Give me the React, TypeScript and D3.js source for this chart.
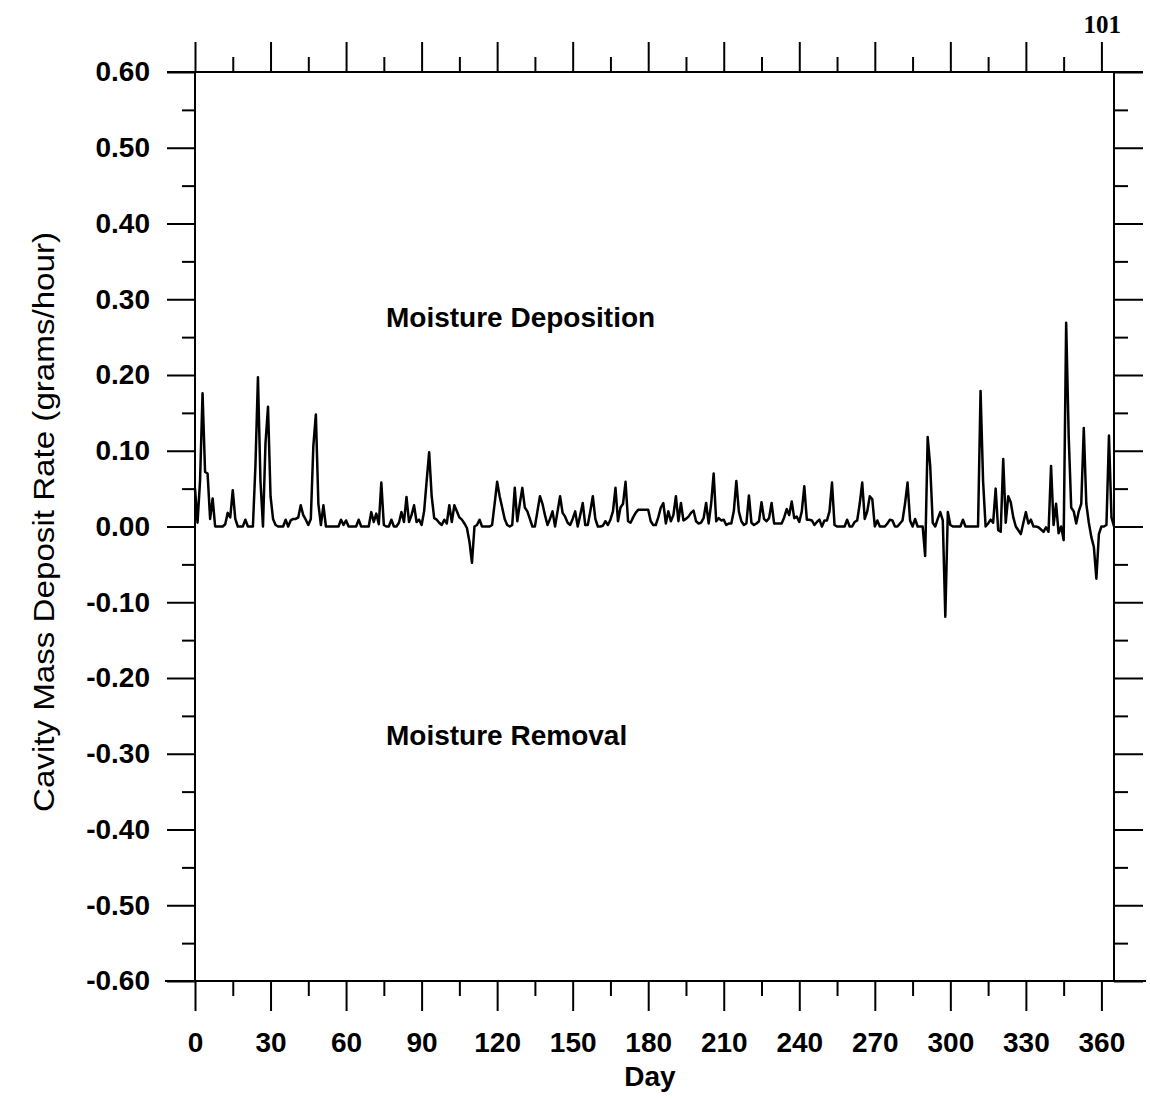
import React, { useRef, useEffect } from 'react';
import * as d3 from 'd3';

// daily cavity mass deposit rate (grams/hour), day 0..365
const RATE_Q1 = [
  0.05, 0.005, 0.06, 0.176, 0.072, 0.07, 0.01, 0.037, 0, 0,
  0, 0, 0.003, 0.018, 0.012, 0.048, 0.01, 0, 0, 0,
  0.009, 0, 0, 0, 0.08, 0.197, 0.06, 0, 0.11, 0.158,
  0.04, 0.01, 0.002, 0, 0, 0, 0.009, 0, 0.008, 0.01,
  0.01, 0.012, 0.028, 0.015, 0.009, 0.002, 0.01, 0.106, 0.148, 0.03,
  0.002, 0.028, 0, 0, 0, 0, 0, 0, 0.009, 0.002,
  0.008, 0, 0, 0, 0, 0.009, 0, 0, 0, 0,
  0.019, 0.006, 0.017, 0.003, 0.058, 0.002, 0, 0, 0.009, 0,
  0, 0.005, 0.019, 0.006, 0.039, 0.006, 0.015, 0.028, 0.006, 0.009,
];
const RATE_Q2 = [
  0.002, 0.02, 0.06, 0.098, 0.04, 0.011, 0.009, 0.005, 0.002, 0.009,
  0.004, 0.028, 0.006, 0.028, 0.02, 0.012, 0.009, 0.004, -0.002, -0.02,
  -0.048, 0, 0.002, 0.009, 0, 0, 0, 0, 0.002, 0.03,
  0.059, 0.04, 0.025, 0.01, 0.002, 0, 0.002, 0.051, 0.007, 0.03,
  0.051, 0.025, 0.02, 0.01, 0, 0, 0.02, 0.04, 0.03, 0.015,
  0.002, 0.01, 0.02, 0, 0.02, 0.04, 0.018, 0.013, 0.005, 0.002,
  0.01, 0.02, 0, 0.015, 0.031, 0.002, 0.002, 0.02, 0.04, 0.01,
  0, 0, 0.001, 0.007, 0.002, 0.009, 0.02, 0.051, 0.007, 0.025,
  0.03, 0.059, 0.007, 0.005, 0.012, 0.018, 0.022, 0.022, 0.022, 0.022,
];
const RATE_Q3 = [
  0.022, 0.007, 0.002, 0.002, 0.012, 0.025, 0.031, 0.004, 0.02, 0.007,
  0.015, 0.04, 0.007, 0.031, 0.008, 0.01, 0.013, 0.018, 0.021, 0.007,
  0.004, 0.005, 0.011, 0.031, 0.004, 0.03, 0.07, 0.007, 0.011, 0.008,
  0.009, 0.002, 0.004, 0.004, 0.02, 0.06, 0.02, 0.007, 0.002, 0.004,
  0.041, 0.005, 0.002, 0.004, 0.007, 0.032, 0.01, 0.007, 0.011, 0.031,
  0.004, 0.004, 0.004, 0.004, 0.012, 0.023, 0.015, 0.033, 0.011, 0.013,
  0.006, 0.02, 0.053, 0.009, 0.009, 0.008, 0.002, 0.006, 0.009, 0,
  0.008, 0.008, 0.02, 0.058, 0.002, 0, 0, 0, 0, 0.009,
  0, 0, 0.006, 0.008, 0.03, 0.058, 0.01, 0.02, 0.04, 0.036,
];
const RATE_Q4 = [
  0, 0.008, 0, 0, 0, 0.004, 0.009, 0.008, 0, 0,
  0.004, 0.008, 0.03, 0.058, 0.008, 0, 0.01, 0, 0, 0,
  -0.039, 0.118, 0.08, 0.005, 0, 0.01, 0.019, 0.008, -0.119, 0.019,
  0.002, 0, 0, 0, 0, 0.009, 0, 0, 0, 0,
  0, 0, 0.179, 0.06, 0, 0.004, 0.009, 0.005, 0.05, -0.005,
  -0.007, 0.089, 0.005, 0.04, 0.032, 0.012, 0, -0.005, -0.01, 0.005,
  0.019, 0.004, 0.009, 0, 0, -0.001, -0.004, -0.007, -0.001, -0.007,
  0.08, 0.002, 0.03, -0.009, 0, -0.018, 0.269, 0.12, 0.025, 0.02,
  0.004, 0.02, 0.03, 0.13, 0.03, 0.005, -0.014, -0.027, -0.069, -0.01,
  0, 0, 0.002, 0.12, 0.012, 0,
];

const X_MAJOR = [0, 30, 60, 90, 120, 150, 180, 210, 240, 270, 300, 330, 360];
const X_MINOR = [15, 45, 75, 105, 135, 165, 195, 225, 255, 285, 315, 345];
const Y_MAJOR = [-0.6, -0.5, -0.4, -0.3, -0.2, -0.1, 0, 0.1, 0.2, 0.3, 0.4, 0.5, 0.6];
const Y_MINOR = [-0.55, -0.45, -0.35, -0.25, -0.15, -0.05, 0.05, 0.15, 0.25, 0.35, 0.45, 0.55];

const W = 1150;
const H = 1099;
const FONT = '"Liberation Sans", Arial, Helvetica, sans-serif';

// plain hyphen for negatives, two decimals
const fmtY = (d: number) => d3.format('.2f')(d).replace('\u2212', '-');

export default function App() {
  const svgRef = useRef<SVGSVGElement>(null);

  useEffect(() => {
    const svg = d3.select(svgRef.current);
    svg.selectAll('*').remove();

    const left = 195, right = 1114, top = 72, bottom = 981;
    const x = d3.scaleLinear().domain([0, 365]).range([left, right]);
    const y = d3.scaleLinear().domain([-0.6, 0.6]).range([bottom, top]);

    const rate = [...RATE_Q1, ...RATE_Q2, ...RATE_Q3, ...RATE_Q4];

    const clean = (g: any) => {
      g.select('.domain').remove();
      g.selectAll('line').attr('stroke', '#000').attr('stroke-width', 2);
      g.selectAll('text')
        .attr('fill', '#000')
        .style('font-family', FONT)
        .style('font-weight', 'bold')
        .style('font-size', '28px');
    };

    // top
    svg.append('g').attr('transform', `translate(0,${top})`)
      .call(d3.axisTop(x).tickValues(X_MAJOR).tickSize(30).tickFormat(() => '')).call(clean);
    svg.append('g').attr('transform', `translate(0,${top})`)
      .call(d3.axisTop(x).tickValues(X_MINOR).tickSize(15).tickFormat(() => '')).call(clean);
    // bottom
    svg.append('g').attr('transform', `translate(0,${bottom})`)
      .call(d3.axisBottom(x).tickValues(X_MAJOR).tickSize(30).tickPadding(21).tickFormat(d3.format('d'))).call(clean);
    svg.append('g').attr('transform', `translate(0,${bottom})`)
      .call(d3.axisBottom(x).tickValues(X_MINOR).tickSize(15).tickFormat(() => '')).call(clean);
    // left
    svg.append('g').attr('transform', `translate(${left},0)`)
      .call(d3.axisLeft(y).tickValues(Y_MAJOR).tickSize(28).tickPadding(17).tickFormat(fmtY as any)).call(clean);
    svg.append('g').attr('transform', `translate(${left},0)`)
      .call(d3.axisLeft(y).tickValues(Y_MINOR).tickSize(13).tickFormat(() => '')).call(clean);
    // right
    svg.append('g').attr('transform', `translate(${right},0)`)
      .call(d3.axisRight(y).tickValues(Y_MAJOR).tickSize(29).tickFormat(() => '')).call(clean);
    svg.append('g').attr('transform', `translate(${right},0)`)
      .call(d3.axisRight(y).tickValues(Y_MINOR).tickSize(14).tickFormat(() => '')).call(clean);

    // frame
    const frame = svg.append('g').attr('stroke', '#000').attr('stroke-width', 2);
    frame.append('line').attr('x1', 167).attr('x2', 1143).attr('y1', top).attr('y2', top);
    frame.append('line').attr('x1', 165).attr('x2', 1146).attr('y1', bottom).attr('y2', bottom);
    frame.append('line').attr('x1', left).attr('x2', left).attr('y1', top).attr('y2', bottom);
    frame.append('line').attr('x1', right).attr('x2', right).attr('y1', top).attr('y2', bottom);

    // series
    const line = d3.line<number>()
      .x((_, i) => x(i))
      .y(d => y(d));
    svg.append('path')
      .datum(rate)
      .attr('d', line)
      .attr('fill', 'none')
      .attr('stroke', '#000')
      .attr('stroke-width', 2.5)
      .attr('stroke-linejoin', 'round');

    // labels
    svg.append('text')
      .attr('x', 650).attr('y', 1086)
      .attr('text-anchor', 'middle')
      .style('font-family', FONT).style('font-weight', 'bold').style('font-size', '28px')
      .text('Day');
    svg.append('text')
      .attr('transform', 'translate(54,522) rotate(-90)')
      .attr('text-anchor', 'middle')
      .attr('textLength', 580)
      .attr('lengthAdjust', 'spacingAndGlyphs')
      .style('font-family', FONT).style('font-size', '29px')
      .text('Cavity Mass Deposit Rate (grams/hour)');
    svg.append('text')
      .attr('x', 386).attr('y', 327)
      .style('font-family', FONT).style('font-weight', 'bold').style('font-size', '28px')
      .text('Moisture Deposition');
    svg.append('text')
      .attr('x', 386).attr('y', 745)
      .style('font-family', FONT).style('font-weight', 'bold').style('font-size', '28px')
      .text('Moisture Removal');
    svg.append('text')
      .attr('x', 1121).attr('y', 33)
      .attr('text-anchor', 'end')
      .style('font-family', '"Liberation Serif", "Times New Roman", serif')
      .style('font-weight', 'bold')
      .style('font-size', '25px')
      .text('101');
  }, []);

  return (
    <svg
      ref={svgRef}
      width={W}
      height={H}
      style={{ position: 'absolute', left: 0, top: 0, background: '#fff' }}
    />
  );
}
